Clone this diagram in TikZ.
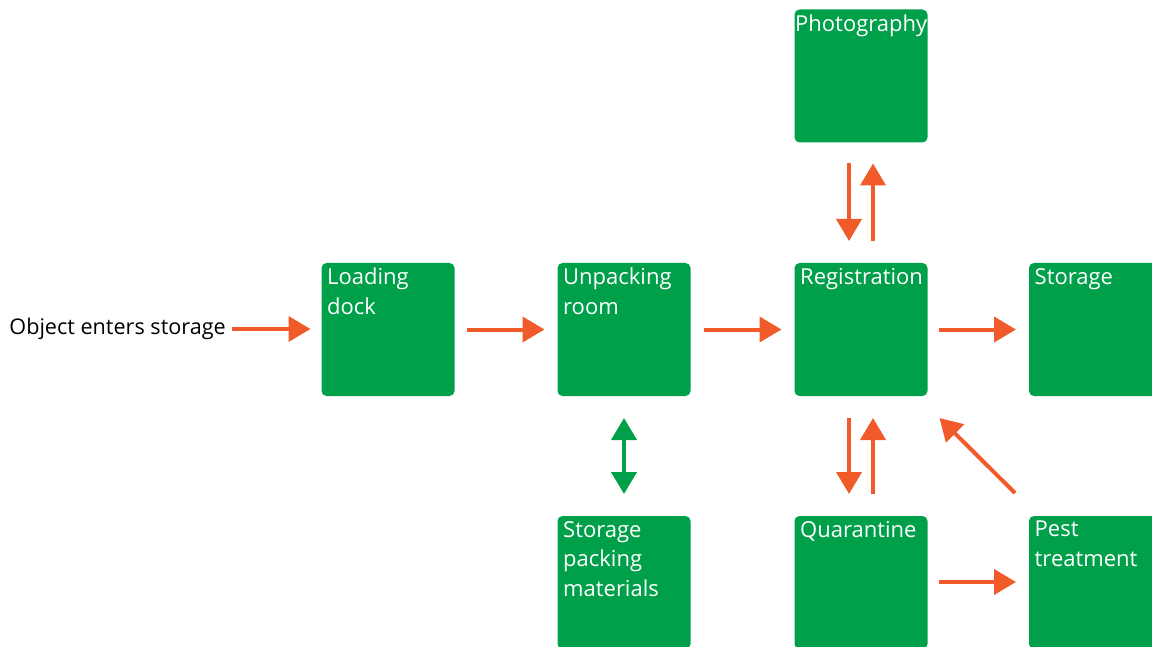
\documentclass[tikz,border=0pt]{standalone}
\usepackage{fontspec}
\setmainfont{Open Sans}
\usetikzlibrary{arrows.meta}
\definecolor{boxgreen}{HTML}{00A04B}
\definecolor{flow}{HTML}{F15A29}
\tikzset{
  box/.style={fill=boxgreen, rounded corners=5pt, minimum width=133pt, minimum height=133pt, inner sep=0pt, outer sep=0pt},
  boxtext/.style={text=white, font=\fontsize{22}{29.5}\selectfont, align=left, inner xsep=5.5pt, inner ysep=5pt, anchor=north west},
  flowarrow/.style={draw=flow, line width=4pt, -{Triangle[width=25pt,length=22pt]}},
  greenarrow/.style={draw=boxgreen, line width=4pt, {Triangle[width=25pt,length=22pt]}-{Triangle[width=25pt,length=22pt]}}
}
\begin{document}
\begin{tikzpicture}[x=1pt, y=-1pt]
\useasboundingbox (0,0) rectangle (1152,647);
\clip (0,0) rectangle (1152,647);

% process stations
\node[box, label={[boxtext]north west:{Loading\\dock}}] (load) at (388,329.5) {};
\node[box, label={[boxtext]north west:{Unpacking\\room}}] (unp) at (624,329.5) {};
\node[box, label={[boxtext]north west:{Registration}}] (reg) at (861,329.5) {};
\node[box, label={[boxtext]north west:{Storage}}] (stor) at (1095.5,329.5) {};
\node[box, label={[boxtext, inner xsep=0.5pt]north west:{Photography}}] (photo) at (861,76) {};
\node[box, label={[boxtext]north west:{Storage\\packing\\materials}}] (spm) at (624,582.5) {};
\node[box, label={[boxtext]north west:{Quarantine}}] (quar) at (861,582.5) {};
\node[box, label={[boxtext]north west:{Pest\\treatment}}] (pest) at (1095.5,582.5) {};

% entry text
\node[anchor=east, inner sep=0pt, font=\fontsize{21.6}{26}\selectfont] (obj) at (226,329) {Object enters storage};

% main flow
\draw[flowarrow, shorten <=6pt, shorten >=11pt] (obj.east) -- (load.west |- obj.east);
\draw[flowarrow, shorten <=12pt, shorten >=13pt] (load.east) -- (unp.west);
\draw[flowarrow, shorten <=13pt, shorten >=13pt] (unp.east) -- (reg.west);
\draw[flowarrow, shorten <=11pt, shorten >=13pt] (reg.east) -- (stor.west);

% photography loop
\draw[flowarrow, shorten <=21pt, shorten >=22pt] ([shift={(-12,0)}]photo.south) -- ([shift={(-12,0)}]reg.north);
\draw[flowarrow, shorten <=22pt, shorten >=21pt] ([shift={(12,0)}]reg.north) -- ([shift={(12,0)}]photo.south);

% quarantine loop
\draw[flowarrow, shorten <=22pt, shorten >=22pt] ([shift={(-12,0)}]reg.south) -- ([shift={(-12,0)}]quar.north);
\draw[flowarrow, shorten <=22pt, shorten >=22pt] ([shift={(12,0)}]quar.north) -- ([shift={(12,0)}]reg.south);
\draw[flowarrow, shorten <=11pt, shorten >=13pt] (quar.east |- 0,582) -- (pest.west |- 0,582);
\draw[flowarrow] ([shift={(-14,-23)}]pest.north west) -- ([shift={(12,22)}]reg.south east);

% packing materials exchange
\draw[greenarrow, shorten <=22pt, shorten >=22pt] (unp.south) -- (spm.north);
\end{tikzpicture}
\end{document}
